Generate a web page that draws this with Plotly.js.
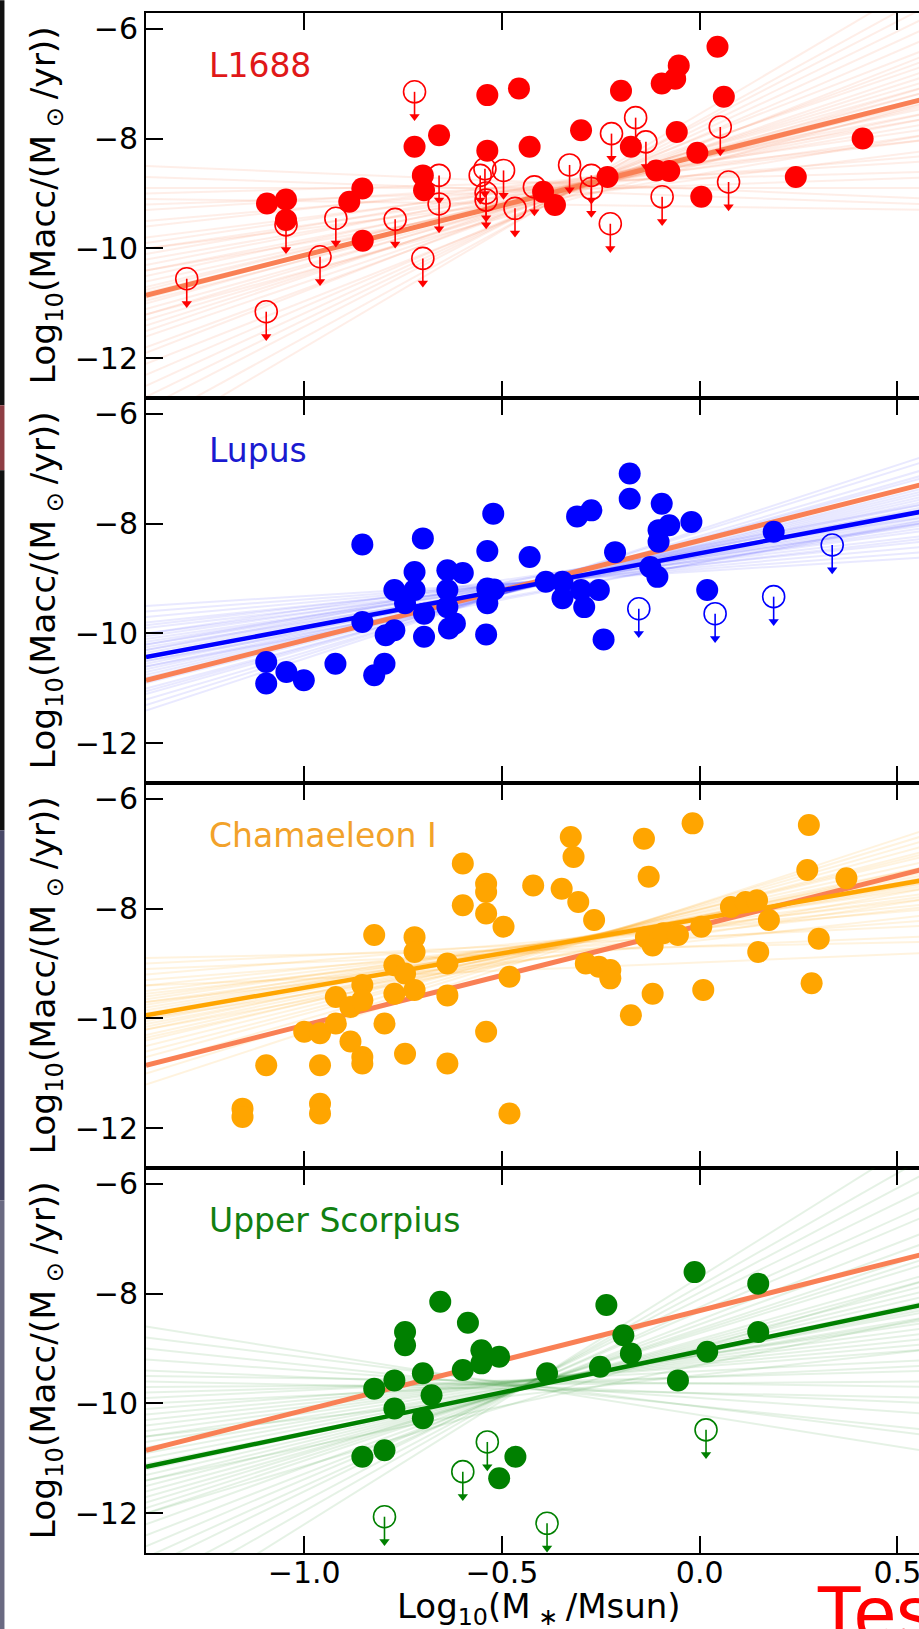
<!DOCTYPE html>
<html><head><meta charset="utf-8">
<script src="https://cdn.plot.ly/plotly-3.0.1.min.js"></script>
<style>html,body{margin:0;padding:0;overflow:hidden;background:#fff;width:919px;height:1629px}#chart{width:960px;height:1629px}</style>
</head><body><div id="chart"></div><script>
// ---------- data ----------
const xTicks = [-1.0, -0.5, 0.0, 0.5];
const yTicks = [-6, -8, -10, -12];
const regionNames = ["L1688", "Lupus", "Chamaeleon I", "Upper Scorpius"];

const l1688X = [-1.094,-1.046,-1.046,-0.886,-0.853,-0.852,-0.721,-0.659,-0.700,-0.697,-0.537,-0.537,-0.457,-0.430,-0.396,-0.366,-0.300,-0.233,-0.199,-0.174,-0.110,-0.077,-0.096,-0.062,-0.053,-0.058,-0.006,0.004,0.045,0.061,0.243,0.412];
const l1688Y = [-9.18,-9.11,-9.48,-9.15,-8.91,-9.86,-8.15,-7.94,-8.67,-8.94,-7.21,-8.22,-7.09,-8.15,-8.97,-9.21,-7.85,-8.70,-7.13,-8.15,-8.58,-8.59,-7.00,-6.91,-6.67,-7.88,-8.26,-9.06,-6.33,-7.24,-8.70,-8.00];
const l1688UlX = [-1.297,-1.096,-1.046,-0.960,-0.920,-0.770,-0.721,-0.700,-0.659,-0.659,-0.555,-0.543,-0.540,-0.540,-0.496,-0.467,-0.418,-0.329,-0.274,-0.274,-0.226,-0.223,-0.162,-0.136,-0.095,0.052,0.073];
const l1688UlY = [-10.55,-11.15,-9.57,-10.15,-9.45,-9.47,-7.15,-10.18,-8.67,-9.19,-8.67,-8.55,-8.99,-9.12,-8.58,-9.27,-8.88,-8.48,-8.67,-8.91,-9.55,-7.91,-7.62,-8.06,-9.06,-7.79,-8.79];

const lupusX = [-1.096,-1.096,-1.045,-1.001,-0.921,-0.853,-0.853,-0.823,-0.797,-0.772,-0.772,-0.794,-0.745,-0.721,-0.721,-0.700,-0.697,-0.697,-0.638,-0.638,-0.638,-0.634,-0.619,-0.599,-0.537,-0.537,-0.537,-0.540,-0.522,-0.520,-0.430,-0.389,-0.347,-0.347,-0.310,-0.274,-0.300,-0.292,-0.255,-0.243,-0.214,-0.177,-0.177,-0.125,-0.107,-0.104,-0.096,-0.104,-0.077,-0.021,0.019,0.187];
const lupusY = [-10.52,-10.91,-10.70,-10.85,-10.55,-9.79,-8.38,-10.76,-10.55,-9.21,-9.94,-10.03,-9.45,-8.88,-9.21,-8.27,-9.64,-10.06,-8.85,-9.21,-9.52,-9.91,-9.82,-8.90,-8.50,-9.18,-9.45,-10.02,-7.82,-9.20,-8.61,-9.06,-9.06,-9.36,-7.87,-7.76,-9.21,-9.52,-9.21,-10.11,-8.52,-7.09,-7.55,-8.79,-8.97,-8.33,-7.64,-8.12,-8.03,-7.97,-9.21,-8.15];
const lupusUlX = [-0.154,0.039,0.187,0.335];
const lupusUlY = [-9.55,-9.64,-9.33,-8.39];

const chaX = [-1.156,-1.156,-1.096,-1.000,-0.960,-0.960,-0.960,-0.960,-0.920,-0.920,-0.883,-0.883,-0.853,-0.853,-0.853,-0.853,-0.823,-0.797,-0.772,-0.772,-0.745,-0.745,-0.721,-0.721,-0.721,-0.638,-0.638,-0.638,-0.599,-0.599,-0.540,-0.540,-0.540,-0.540,-0.496,-0.481,-0.481,-0.421,-0.349,-0.326,-0.319,-0.307,-0.288,-0.267,-0.255,-0.226,-0.226,-0.174,-0.141,-0.129,-0.136,-0.119,-0.119,-0.092,-0.055,-0.018,0.004,0.009,0.079,0.116,0.145,0.148,0.175,0.276,0.272,0.301,0.283,0.371];
const chaY = [-11.64,-11.79,-10.85,-10.24,-10.27,-10.85,-11.55,-11.73,-9.61,-10.09,-10.42,-9.79,-9.39,-9.67,-10.70,-10.82,-8.48,-10.09,-9.03,-9.55,-10.64,-9.18,-8.52,-8.79,-9.48,-9.00,-9.58,-10.82,-7.18,-7.94,-7.55,-7.70,-8.09,-10.24,-8.33,-9.24,-11.73,-7.58,-7.64,-6.70,-7.06,-7.88,-9.00,-8.21,-9.06,-9.12,-9.27,-9.94,-6.73,-7.42,-8.52,-8.67,-9.55,-8.45,-8.48,-6.45,-8.33,-9.48,-7.97,-7.88,-7.85,-8.79,-8.21,-6.48,-7.30,-8.55,-9.36,-7.45];

const uscoX = [-0.853,-0.823,-0.797,-0.772,-0.772,-0.745,-0.745,-0.700,-0.700,-0.678,-0.656,-0.599,-0.586,-0.552,-0.552,-0.507,-0.507,-0.466,-0.386,-0.252,-0.236,-0.193,-0.174,-0.055,-0.013,0.019,0.148,0.148];
const uscoY = [-10.97,-9.73,-10.85,-9.58,-10.09,-8.70,-8.94,-9.45,-10.27,-9.85,-8.15,-9.39,-8.53,-9.03,-9.27,-9.15,-11.36,-10.97,-9.45,-9.33,-8.21,-8.76,-9.09,-9.58,-7.61,-9.06,-7.82,-8.70];
const uscoUlX = [-0.797,-0.599,-0.537,-0.386,0.016];
const uscoUlY = [-12.06,-11.24,-10.70,-12.18,-10.48];

// best-fit lines: value at the left (x=-1.4) and right (x=0.6) plot edges
const fitLeft  = [-10.85, -10.43, -9.94, -11.15];
const fitRight = [-7.22, -7.73, -7.44, -8.15];

// posterior sample lines (left edge value, right edge value)
const l1688SampLeft  = [-8.5,-8.7,-8.9,-9.0,-9.2,-9.3,-9.5,-9.6,-9.8,-9.9,-10.0,-10.1,-10.2,-10.3,-10.4,-10.5,-10.6,-10.7,-10.75,-10.8,-10.9,-10.95,-11.0,-11.1,-11.2,-11.3,-11.4,-11.5,-11.6,-11.8,-11.9,-12.1,-12.3,-12.5,-12.7,-12.9,-13.2,-13.5,-9.1,-10.4,-11.2,-10.0];
const l1688SampRight = [-9.1,-9.2,-8.9,-8.6,-8.7,-8.4,-8.3,-8.0,-8.0,-7.8,-7.9,-7.6,-7.7,-7.5,-7.6,-7.4,-7.5,-7.3,-7.2,-7.35,-7.1,-7.25,-7.0,-7.1,-6.9,-7.0,-6.8,-6.6,-6.7,-6.5,-6.3,-6.4,-6.1,-5.9,-5.7,-5.5,-5.3,-5.0,-9.3,-7.9,-7.3,-8.2];
const lupusSampLeft  = [-9.5,-9.6,-9.7,-9.8,-9.85,-9.9,-10.0,-10.05,-10.1,-10.15,-10.2,-10.25,-10.3,-10.35,-10.4,-10.45,-10.5,-10.55,-10.6,-10.65,-10.7,-10.75,-10.8,-10.85,-10.9,-11.0,-11.05,-11.1,-11.2,-11.3,-11.4,-10.3,-10.6,-10.2,-10.5,-10.0];
const lupusSampRight = [-8.6,-8.5,-8.4,-8.3,-8.2,-8.25,-8.1,-8.0,-8.05,-7.95,-7.9,-7.95,-7.85,-7.8,-7.75,-7.7,-7.72,-7.6,-7.65,-7.55,-7.5,-7.45,-7.4,-7.35,-7.3,-7.2,-7.1,-7.05,-6.95,-6.8,-6.7,-7.6,-7.9,-7.7,-7.95,-7.85];
const chaSampLeft  = [-8.9,-9.0,-9.1,-9.2,-9.3,-9.4,-9.5,-9.55,-9.6,-9.65,-9.7,-9.75,-9.8,-9.85,-9.9,-9.95,-10.0,-10.05,-10.1,-10.15,-10.2,-10.3,-10.35,-10.4,-10.5,-10.6,-10.7,-10.85,-11.0,-11.2,-9.4,-10.0,-10.2,-9.7];
const chaSampRight = [-8.6,-8.3,-8.5,-8.0,-8.2,-7.9,-7.8,-7.95,-7.7,-7.6,-7.75,-7.5,-7.55,-7.45,-7.4,-7.5,-7.35,-7.3,-7.4,-7.2,-7.25,-7.1,-7.2,-7.0,-6.95,-6.9,-6.8,-6.7,-6.6,-6.5,-8.8,-7.8,-7.6,-8.1];
const uscoSampLeft  = [-8.6,-8.8,-9.0,-9.2,-9.4,-9.5,-9.7,-9.8,-9.9,-10.0,-10.1,-10.2,-10.3,-10.4,-10.5,-10.6,-10.7,-10.8,-10.9,-11.0,-11.1,-11.2,-11.3,-11.4,-11.5,-11.6,-11.7,-11.8,-11.9,-12.0,-12.2,-12.4,-12.6,-12.8,-13.0,-13.3,-13.6,-14.0,-10.6,-11.4,-12.0,-9.6];
const uscoSampRight = [-10.9,-10.6,-10.5,-10.2,-10.0,-9.7,-9.6,-9.4,-9.2,-9.3,-9.0,-8.9,-8.8,-8.7,-8.6,-8.5,-8.45,-8.4,-8.3,-8.25,-8.2,-8.1,-8.0,-7.9,-7.8,-7.7,-7.6,-7.4,-7.3,-7.2,-7.0,-6.8,-6.5,-6.3,-6.0,-5.7,-5.4,-5.0,-9.0,-8.4,-7.7,-9.9];

// ---------- styling ----------
const X_RANGE = [-1.4, 0.6];
const Y_RANGE = [-12.72, -5.716];
const FONT = "DejaVu Sans, Noto Sans, sans-serif";
const pointColors = ["#ff0000", "#0000ff", "#ffa500", "#008000"];
const labelColors = ["#e01818", "#1a1ad0", "#f2a22a", "#118011"];
const sampleColors = ["rgba(250,120,80,0.13)", "rgba(40,40,255,0.10)", "rgba(255,165,0,0.13)", "rgba(0,128,0,0.10)"];
const CORAL = "#f98055";
const ARROW_LEN = 0.5;

const detX = [l1688X, lupusX, chaX, uscoX];
const detY = [l1688Y, lupusY, chaY, uscoY];
const ulX = [l1688UlX, lupusUlX, [], uscoUlX];
const ulY = [l1688UlY, lupusUlY, [], uscoUlY];
const sampL = [l1688SampLeft, lupusSampLeft, chaSampLeft, uscoSampLeft];
const sampR = [l1688SampRight, lupusSampRight, chaSampRight, uscoSampRight];

const traces = [];
const annotations = [];
const layout = {
  width: 960, height: 1629,
  margin: {l: 146, r: 23.2, t: 13, b: 76, pad: 0},
  paper_bgcolor: "#ffffff", plot_bgcolor: "#ffffff",
  showlegend: false, hovermode: false,
  font: {family: FONT, color: "#000"},
};

for (let p = 0; p < 4; p++) {
  const xa = p === 0 ? "x" : "x" + (p + 1);
  const ya = p === 0 ? "y" : "y" + (p + 1);
  const xKey = p === 0 ? "xaxis" : "xaxis" + (p + 1);
  const yKey = p === 0 ? "yaxis" : "yaxis" + (p + 1);
  const top = 1 - p * 0.25, bot = 1 - (p + 1) * 0.25;
  layout[xKey] = {
    domain: [0, 1], anchor: ya, range: X_RANGE, tickvals: xTicks, tickformat: ".1f",
    ticks: "inside", ticklen: 17, tickwidth: 2, tickcolor: "#000",
    showline: true, linewidth: 2, linecolor: "#000", mirror: "ticks",
    showgrid: false, zeroline: false, showticklabels: p === 3, ticklabelstandoff: -8,
    tickfont: {family: FONT, size: 30, color: "#000"}, fixedrange: true,
  };
  if (p > 0) layout[xKey].matches = "x";
  layout[yKey] = {
    domain: [bot, top], anchor: xa, range: Y_RANGE, tickvals: yTicks,
    ticks: "inside", ticklen: 17, tickwidth: 2, tickcolor: "#000",
    showline: true, linewidth: 2, linecolor: "#000", mirror: "ticks",
    showgrid: false, zeroline: false,
    tickfont: {family: FONT, size: 30, color: "#000"}, fixedrange: true,
  };

  // sample lines
  for (let i = 0; i < sampL[p].length; i++) {
    traces.push({x: X_RANGE, y: [sampL[p][i], sampR[p][i]], xaxis: xa, yaxis: ya, mode: "lines",
      line: {color: sampleColors[p], width: 2}, hoverinfo: "skip"});
  }
  // L1688 reference fit (coral) in every panel
  traces.push({x: X_RANGE, y: [fitLeft[0], fitRight[0]], xaxis: xa, yaxis: ya, mode: "lines",
    line: {color: CORAL, width: 5}, hoverinfo: "skip"});
  // own best fit
  if (p > 0) {
    traces.push({x: X_RANGE, y: [fitLeft[p], fitRight[p]], xaxis: xa, yaxis: ya, mode: "lines",
      line: {color: pointColors[p], width: 4.5}, hoverinfo: "skip"});
  }
  // upper limits: open circle + downward arrow
  if (ulX[p].length) {
    const sx = [], sy = [], hx = [], hy = [];
    ulX[p].forEach((x, i) => {
      sx.push(x, x, null); sy.push(ulY[p][i], ulY[p][i] - ARROW_LEN * 0.9, null);
      hx.push(x); hy.push(ulY[p][i] - ARROW_LEN * 0.9);
    });
    traces.push({x: sx, y: sy, xaxis: xa, yaxis: ya, mode: "lines",
      line: {color: pointColors[p], width: 1.6}, hoverinfo: "skip"});
    traces.push({x: hx, y: hy, xaxis: xa, yaxis: ya, mode: "markers",
      marker: {symbol: "triangle-down", size: 9, color: pointColors[p], line: {width: 0}}, hoverinfo: "skip"});
    traces.push({x: ulX[p], y: ulY[p], xaxis: xa, yaxis: ya, mode: "markers",
      marker: {symbol: "circle-open", size: 22, color: pointColors[p], line: {width: 1.6, color: pointColors[p]}}, hoverinfo: "skip"});
  }
  // detections
  traces.push({x: detX[p], y: detY[p], xaxis: xa, yaxis: ya, mode: "markers",
    marker: {symbol: "circle", size: 22, color: pointColors[p], line: {width: 0}}, hoverinfo: "skip"});

  // region label
  annotations.push({text: regionNames[p], xref: xa, yref: ya, x: -1.247, y: -6.67,
    xanchor: "left", yanchor: "middle", showarrow: false,
    font: {family: FONT, size: 33, color: labelColors[p]}});
  // y title
  annotations.push({text: "Log<sub>10</sub>(Macc/(M<sub> ⊙ </sub>/yr))", xref: "paper", yref: ya + " domain",
    x: -0.1265, y: 0.5, xanchor: "center", yanchor: "middle", textangle: -90, showarrow: false,
    font: {family: FONT, size: 34.5, color: "#000"}});
}
// x title
annotations.push({text: "Log<sub>10</sub>(M<sub> ∗ </sub>/Msun)", xref: "paper", yref: "paper",
  x: 0.497, y: -0.0204, xanchor: "center", yanchor: "top", showarrow: false,
  font: {family: FONT, size: 34, color: "#000"}});
// overlay text clipped at the page edge
annotations.push({text: "Test", xref: "paper", yref: "paper", x: 0.844, y: -0.0095,
  xanchor: "left", yanchor: "top", showarrow: false,
  font: {family: "Liberation Sans, Arial, sans-serif", size: 76, color: "#ff0000"}});
layout.annotations = annotations;

// dark strip at the left edge of the screenshot
const px = v => (v - 146) / 790.8;
const py = v => (1552.7 - v) / 1540;
layout.shapes = [
  {type: "rect", xref: "paper", yref: "paper", x0: px(0), x1: px(4.5), y0: py(405), y1: py(0), fillcolor: "#111111", line: {width: 0}, layer: "above"},
  {type: "rect", xref: "paper", yref: "paper", x0: px(0), x1: px(4.5), y0: py(470), y1: py(405), fillcolor: "#8e3e44", line: {width: 0}, layer: "above"},
  {type: "rect", xref: "paper", yref: "paper", x0: px(0), x1: px(4.5), y0: py(830), y1: py(470), fillcolor: "#111111", line: {width: 0}, layer: "above"},
  {type: "rect", xref: "paper", yref: "paper", x0: px(0), x1: px(4.5), y0: py(1200), y1: py(830), fillcolor: "#474766", line: {width: 0}, layer: "above"},
  {type: "rect", xref: "paper", yref: "paper", x0: px(0), x1: px(4.5), y0: py(1629), y1: py(1200), fillcolor: "#6a6a82", line: {width: 0}, layer: "above"},
];

Plotly.newPlot("chart", traces, layout, {staticPlot: true, displayModeBar: false});
</script></body></html>
